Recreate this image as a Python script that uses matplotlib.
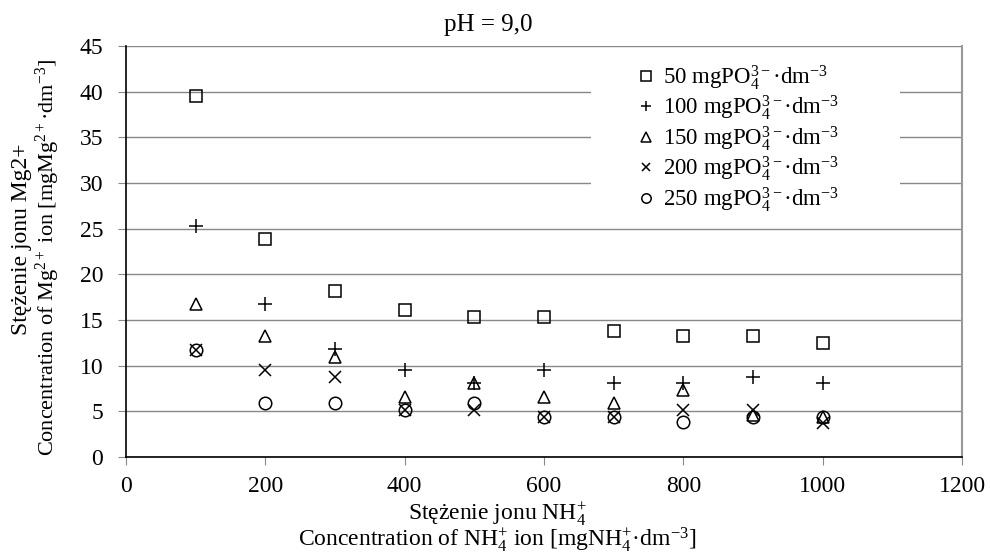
import matplotlib
matplotlib.use("Agg")
import matplotlib.pyplot as plt
from matplotlib.patches import Rectangle

plt.rcParams['font.family'] = ['Liberation Serif', 'DejaVu Serif']
plt.rcParams['mathtext.fontset'] = 'custom'
plt.rcParams['mathtext.rm'] = 'Liberation Serif'
plt.rcParams['mathtext.it'] = 'Liberation Serif:italic'
plt.rcParams['mathtext.bf'] = 'Liberation Serif:bold'

nh4 = [100, 200, 300, 400, 500, 600, 700, 800, 900, 1000]
s50 = [39.5, 23.9, 18.2, 16.1, 15.3, 15.3, 13.8, 13.2, 13.2, 12.5]
s100 = [25.3, 16.7, 11.8, 9.5, 8.1, 9.5, 8.1, 8.1, 8.8, 8.1]
s150 = [16.7, 13.2, 11.0, 6.6, 8.1, 6.6, 5.9, 7.3, 4.6, 4.4]
s200 = [11.7, 9.5, 8.8, 5.1, 5.1, 4.4, 4.4, 5.2, 5.1, 3.7]
s250 = [11.7, 5.9, 5.9, 5.1, 5.9, 4.4, 4.4, 3.8, 4.4, 4.4]
labels = ["50 mgPO$_4^{3-}$·dm$^{-3}$",
          "100 mgPO$_4^{3-}$·dm$^{-3}$",
          "150 mgPO$_4^{3-}$·dm$^{-3}$",
          "200 mgPO$_4^{3-}$·dm$^{-3}$",
          "250 mgPO$_4^{3-}$·dm$^{-3}$"]

W, H = 990, 556
fig = plt.figure(figsize=(9.9, 5.56), dpi=100)
ax = fig.add_axes([126/W, (H-457)/H, (962-126)/W, (457-46)/H])

series = [s50, s100, s150, s200, s250]
markers = ['s', '+', '^', 'x', 'o']
sizes = [9, 9.5, 9, 8.5, 9]
for ys, m, lab, ms in zip(series, markers, labels, sizes):
    ax.plot(nh4, ys, linestyle='none', marker=m, markersize=ms,
            markerfacecolor='none', markeredgecolor='black',
            markeredgewidth=1.1, label=lab, zorder=3)

ax.set_xlim(0, 1200)
ax.set_ylim(0, 45)
ax.set_xticks(range(0, 1201, 200))
ax.set_yticks(range(0, 46, 5))
ax.tick_params(labelsize=17, direction='out', length=5.5, color='#888888')
ax.tick_params(axis='y', pad=11)
ax.tick_params(axis='x', pad=8)
ax.yaxis.grid(True, color='#888888', linewidth=1.0)
ax.set_axisbelow(True)
ax.spines['top'].set_visible(False)
ax.spines['right'].set_color('#999999')
ax.spines['right'].set_linewidth(1.5)
ax.spines['left'].set_linewidth(1.2)
ax.spines['bottom'].set_linewidth(1.2)

# white legend background area (hides gridlines as in the original)
bg = Rectangle((591/W, (H-212)/H), (900-591)/W, (212-58)/H,
               transform=fig.transFigure, facecolor='white',
               edgecolor='none', zorder=1.5)
fig.add_artist(bg)

leg = fig.legend(*ax.get_legend_handles_labels(), loc='upper left',
                 bbox_to_anchor=(637/W, (H-63)/H), fontsize=16.5,
                 frameon=False, handletextpad=0.35, borderpad=0.0,
                 borderaxespad=0.0, labelspacing=0.07, handlelength=0.8,
                 markerscale=0.75)

fig.text(488/W, 1-25/H, "pH = 9,0", fontsize=18, ha='center', va='center')
fig.text(497/W, 1-514/H, "Stężenie jonu NH$_4^{+}$", fontsize=17,
         ha='center', va='center')
fig.text(497/W, 1-540/H, "Concentration of NH$_4^{+}$ ion [mgNH$_4^{+}$·dm$^{-3}$]",
         fontsize=17, ha='center', va='center')
fig.text(22/W, 1-239/H, "Stężenie jonu Mg2+", fontsize=17, rotation=90,
         ha='center', va='center')
fig.text(48/W, 1-257/H, "Concentration of Mg$^{2+}$ ion [mgMg$^{2+}$·dm$^{-3}$]",
         fontsize=16, rotation=90, ha='center', va='center')

fig.savefig("out.png", dpi=100)
